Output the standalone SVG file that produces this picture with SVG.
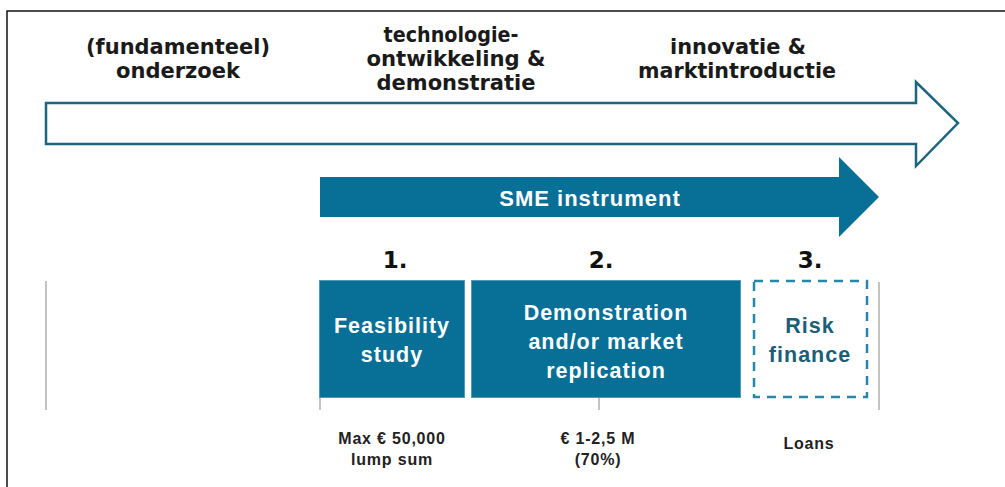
<svg xmlns="http://www.w3.org/2000/svg" width="1005" height="487" viewBox="0 0 1005 487">
  <style>
    .phase { font-family: "DejaVu Sans", "Liberation Sans", sans-serif; font-weight: bold; font-size: 22px; fill: #1a1a1a; text-anchor: middle; }
    .num { font-family: "DejaVu Sans", "Liberation Sans", sans-serif; font-weight: bold; font-size: 23px; fill: #111; text-anchor: middle; }
    .boxtxt { font-family: "Liberation Sans", Arial, sans-serif; font-weight: bold; font-size: 21.5px; letter-spacing: 1px; fill: #ffffff; text-anchor: middle; }
    .risktxt { font-family: "Liberation Sans", Arial, sans-serif; font-weight: bold; font-size: 21.5px; letter-spacing: 1px; fill: #1b5e78; text-anchor: middle; }
    .sme { font-family: "Liberation Sans", Arial, sans-serif; font-weight: bold; font-size: 22px; letter-spacing: 1px; fill: #ffffff; text-anchor: middle; }
    .small { font-family: "Liberation Sans", Arial, sans-serif; font-weight: bold; font-size: 16px; letter-spacing: 0.8px; fill: #222; text-anchor: middle; }
    .box { fill: #086f96; stroke: #4f9ab8; stroke-width: 1; }
    .grid { stroke: #c4c4c4; stroke-width: 2; fill: none; }
  </style>
  <rect x="0" y="0" width="1005" height="487" fill="#ffffff"/>
  <!-- frame -->
  <path d="M7,487 L7,11 L1005,11" fill="none" stroke="#111" stroke-width="1.5"/>

  <!-- phase labels -->
  <g id="phase-labels">
    <text class="phase" x="178" y="54" textLength="184" lengthAdjust="spacingAndGlyphs">(fundamenteel)</text>
    <text class="phase" x="178" y="78" textLength="124" lengthAdjust="spacingAndGlyphs">onderzoek</text>
    <text class="phase" x="451" y="42" textLength="135" lengthAdjust="spacingAndGlyphs">technologie-</text>
    <text class="phase" x="456" y="66" textLength="179" lengthAdjust="spacingAndGlyphs">ontwikkeling &amp;</text>
    <text class="phase" x="456" y="90" textLength="159" lengthAdjust="spacingAndGlyphs">demonstratie</text>
    <text class="phase" x="738" y="54" textLength="136" lengthAdjust="spacingAndGlyphs">innovatie &amp;</text>
    <text class="phase" x="737" y="78" textLength="198" lengthAdjust="spacingAndGlyphs">marktintroductie</text>
  </g>

  <!-- big outline arrow -->
  <g id="main-arrow">
    <path d="M46,103 L916,103 L916,82 L958,123 L916,166 L916,144 L46,144 Z" fill="#ffffff" stroke="#1d6580" stroke-width="2.5" stroke-linejoin="miter"/>
  </g>

  <!-- SME instrument arrow -->
  <g id="sme-arrow">
    <path d="M320,177 L839,177 L839,157 L879,197 L839,237 L839,217 L320,217 Z" fill="#086f96"/>
    <text class="sme" x="590" y="206">SME instrument</text>
  </g>

  <!-- grid lines -->
  <g id="connectors">
    <line class="grid" x1="46" y1="281" x2="46" y2="410"/>
    <line class="grid" x1="879" y1="282" x2="879" y2="410"/>
    <line class="grid" x1="320" y1="398" x2="320" y2="410"/>
    <line class="grid" x1="599" y1="398" x2="599" y2="410"/>
  </g>

  <!-- numbers -->
  <g id="numbers">
    <text class="num" x="395" y="268">1.</text>
    <text class="num" x="601" y="268">2.</text>
    <text class="num" x="810" y="268">3.</text>
  </g>

  <g id="box-feasibility">
    <rect class="box" x="319.5" y="280.5" width="145" height="117"/>
    <text class="boxtxt" x="392" y="333">Feasibility</text>
    <text class="boxtxt" x="392" y="362">study</text>
  </g>

  <g id="box-demonstration">
    <rect class="box" x="471.5" y="280.5" width="269" height="117"/>
    <text class="boxtxt" x="606" y="320">Demonstration</text>
    <text class="boxtxt" x="606" y="349">and/or market</text>
    <text class="boxtxt" x="606" y="378">replication</text>
  </g>

  <g id="box-risk">
    <rect x="754" y="281" width="113" height="116" fill="none" stroke="#2a86a8" stroke-width="2.5" stroke-dasharray="9 7"/>
    <text class="risktxt" x="810" y="333">Risk</text>
    <text class="risktxt" x="810" y="362">finance</text>
  </g>

  <g id="bottom-labels">
    <text class="small" x="392" y="444">Max € 50,000</text>
    <text class="small" x="392" y="465">lump sum</text>
    <text class="small" x="598" y="444">€ 1-2,5 M</text>
    <text class="small" x="598" y="465">(70%)</text>
    <text class="small" x="809" y="449">Loans</text>
  </g>
</svg>
